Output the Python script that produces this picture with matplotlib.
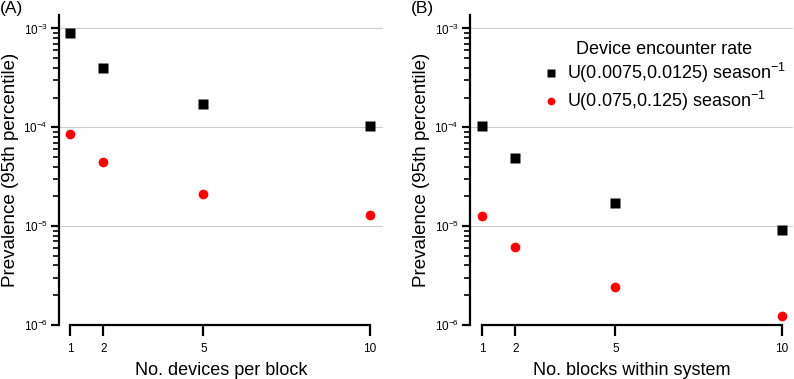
import numpy as np
import matplotlib
matplotlib.use("Agg")
import matplotlib.pyplot as plt
from matplotlib.ticker import LogLocator, FixedLocator

plt.rcParams['font.family'] = ['Liberation Sans', 'DejaVu Sans']
plt.rcParams['mathtext.fontset'] = 'custom'
plt.rcParams['mathtext.rm'] = 'Liberation Sans'
plt.rcParams['mathtext.it'] = 'Liberation Sans:italic'

# x positions
x_vals = [1, 2, 5, 10]

# panel A: devices per block
a_low = [8.9e-4, 4.0e-4, 1.72e-4, 1.03e-4]
a_high = [8.6e-5, 4.5e-5, 2.1e-5, 1.29e-5]

# panel B: blocks within system
b_low = [1.03e-4, 4.9e-5, 1.7e-5, 9.1e-6]
b_high = [1.28e-5, 6.2e-6, 2.44e-6, 1.24e-6]

labels = ['U(0.0075,0.0125) season$^{-1}$', 'U(0.075,0.125) season$^{-1}$']
xlabels = ['No. devices per block', 'No. blocks within system']

fig = plt.figure(figsize=(7.94, 3.79), dpi=100)
ax_a = fig.add_axes([59/794, 0.1425, (383-59)/794, 0.96-0.1425])
ax_b = fig.add_axes([470/794, 0.1425, (793-470)/794, 0.96-0.1425])

ytop = 10 ** (-3 + 13.3/99)

for ax, low, high, xl, xlim in [(ax_a, a_low, a_high, xlabels[0], (0.67, 10.39)),
                                (ax_b, b_low, b_high, xlabels[1], (0.64, 10.33))]:
    ax.set_yscale('log')
    ax.set_ylim(1e-6, ytop)
    ax.set_xlim(*xlim)
    for y in [1e-6, 1e-5, 1e-4, 1e-3]:
        ax.axhline(y, color='#cccccc', lw=0.8, zorder=0)
    ax.plot(x_vals, low, 's', color='black', ms=7, mec='none', label=labels[0], zorder=3)
    ax.plot(x_vals, high, 'o', color='#ff0000', ms=7, mec='none', label=labels[1], zorder=3)
    for s in ['top', 'right']:
        ax.spines[s].set_visible(False)
    ax.spines['left'].set_bounds(1e-6, ytop)
    ax.spines['bottom'].set_bounds(1, 10)
    ax.spines['left'].set_linewidth(1.6)
    ax.spines['bottom'].set_linewidth(1.6)
    ax.xaxis.set_major_locator(FixedLocator(x_vals))
    ax.set_xticklabels([str(v) for v in x_vals])
    ax.yaxis.set_major_locator(LogLocator(base=10, numticks=10))
    ax.yaxis.set_minor_locator(LogLocator(base=10, subs=np.arange(2, 10), numticks=10))
    ax.tick_params(axis='x', length=8, width=1.6, labelsize=8.5, pad=5)
    ax.tick_params(axis='y', which='major', length=6, width=1.6, labelsize=8.5, pad=2)
    ax.tick_params(axis='y', which='minor', length=4, width=1.2)
    ax.set_xlabel(xl, fontsize=13, labelpad=5)
    ax.set_ylabel('Prevalence (95th percentile)', fontsize=13.5, labelpad=3)
    ax.patch.set_visible(False)

fig.text(0.0, 0.997, '(A)', fontsize=12.5, va='top', ha='left')
fig.text(411/794, 0.997, '(B)', fontsize=12.5, va='top', ha='left')

leg = ax_b.legend(title='Device encounter rate', loc='upper right',
                  bbox_to_anchor=(1.03, 0.97), frameon=False, fontsize=13,
                  title_fontsize=13, handletextpad=0.4, markerscale=0.8,
                  handlelength=1.0, labelspacing=0.2)

fig.savefig('out.png', dpi=100)
